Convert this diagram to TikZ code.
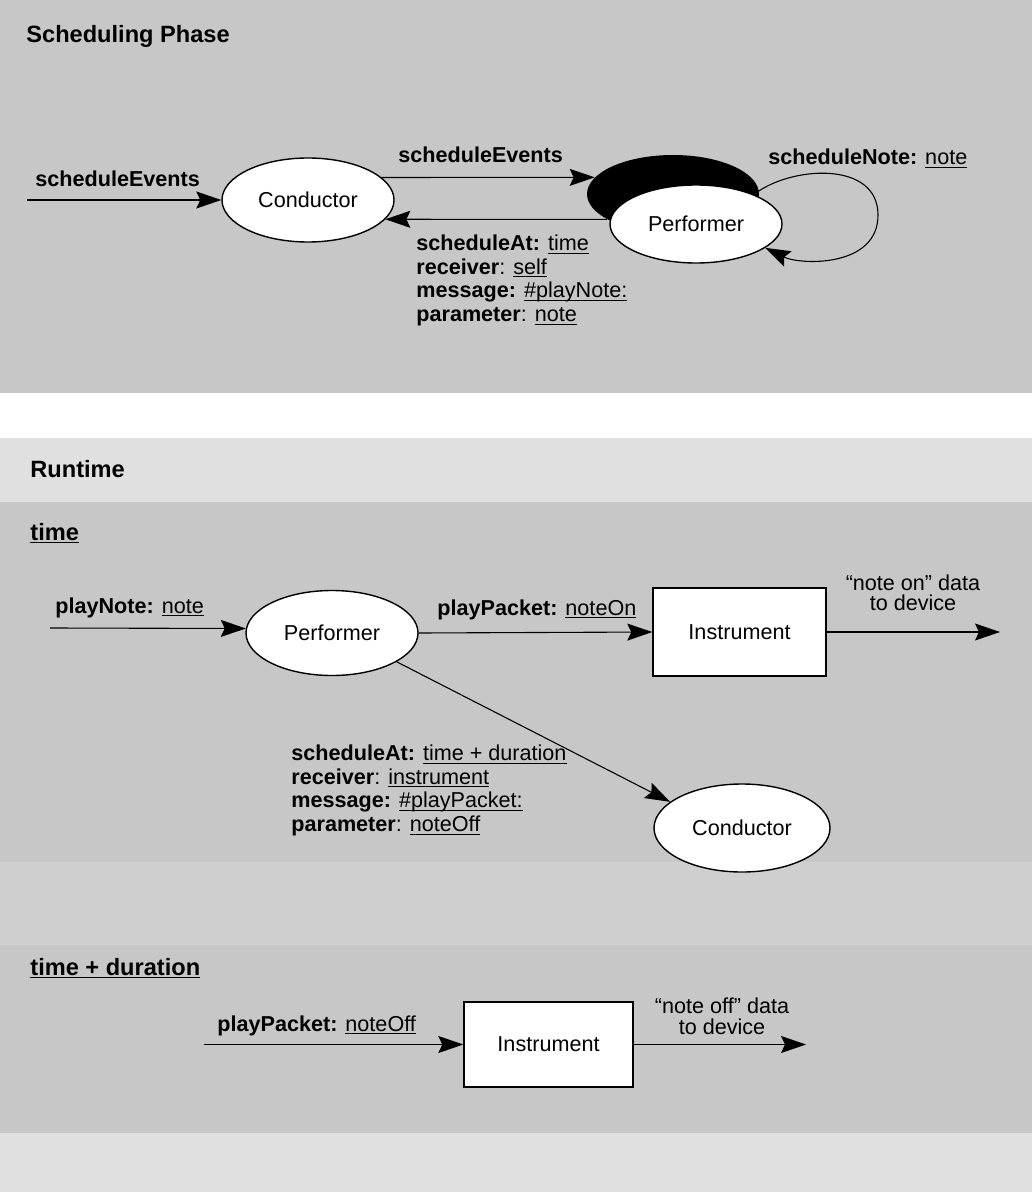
\documentclass[tikz,border=0pt]{standalone}
\usepackage{fontspec}
\setmainfont{Liberation Sans}
\usetikzlibrary{arrows.meta,shapes.geometric}
\newcommand\ulx[1]{\setbox0\hbox{#1}\rlap{\rule[-1.6pt]{\wd0}{0.55pt}}\box0}
\definecolor{bgc}{gray}{0.78}
\definecolor{bgm}{gray}{0.81}
\definecolor{bgl}{gray}{0.88}
\tikzset{
  every node/.style={font=\fontsize{10.8}{11.85}\selectfont, inner sep=0pt},
  obj/.style={ellipse, draw, line width=0.7pt, fill=white},
  box/.style={rectangle, draw, line width=0.7pt, fill=white},
  arr/.style={line width=0.55pt, -{Stealth[length=12.5pt,width=8.5pt,inset=2pt]}},
  lab/.style={anchor=base west},
  hdr/.style={anchor=base west, font=\fontsize{11.8}{13}\selectfont\bfseries},
}
\begin{document}
\begin{tikzpicture}[x=0.5pt,y=-0.5pt]
\useasboundingbox (0,0) rectangle (1032,1192);
% backgrounds
\fill[bgc] (0,0) rectangle (1032,393);
\fill[bgl] (0,438) rectangle (1032,502);
\fill[bgc] (0,502) rectangle (1032,862);
\fill[bgm] (0,862) rectangle (1032,945);
\fill[bgc] (0,945) rectangle (1032,1133);
\fill[bgl] (0,1133) rectangle (1032,1192);

% ---------- Scheduling Phase ----------
\node[hdr] (h1) at (26,43) {Scheduling Phase};
\node[obj, minimum width=86pt, minimum height=42pt] (cond1) at (308,200) {Conductor};
\node[ellipse, fill=black, minimum width=86pt, minimum height=39pt] (perfsh) at (673,194) {};
\node[obj, minimum width=86pt, minimum height=39pt] (perf1) at (696,224) {Performer};

\coordinate (in1) at (27,200);
\draw[arr] (in1) -- (cond1.west);
\node[lab] (l1) at (35,187) {\textbf{scheduleEvents}};

\draw[arr] (cond1.17) -- (perfsh.168);
\node[lab] (l2) at (398,163) {\textbf{scheduleEvents}};
\draw[arr] (perfsh.201) -- (cond1.-14);

\coordinate (loopR) at (878,215);
\draw[arr] (perf1.27) .. controls (790,166) and (878,160) .. (loopR)
  .. controls (878,268) and (800,265) .. (perf1.-19);
\node[lab] (l3) at (768,165) {\textbf{scheduleNote:} \ulx{note}};

\node[anchor=north west, align=left] (l4) at (416,234.5)
  {\textbf{scheduleAt:} \ulx{time}\\
   \textbf{receiver}: \ulx{self}\\
   \textbf{message:} \ulx{\#playNote:}\\
   \textbf{parameter}: \ulx{note}};

% ---------- Runtime ----------
\node[hdr] (h2) at (30,477) {Runtime};
\node[hdr] (h3) at (30,540) {\ulx{time}};

\node[obj, minimum width=86pt, minimum height=42.5pt] (perf2) at (332,633) {Performer};
\node[box, minimum width=86.5pt, minimum height=44pt] (inst1) at (739.5,632) {Instrument};
\node[obj, minimum width=88pt, minimum height=44pt] (cond2) at (742,828) {Conductor};

\coordinate (in2) at (50,628);
\draw[arr] (in2) -- (perf2.177);
\node[lab] (l5) at (55,613) {\textbf{playNote:} \ulx{note}};

\draw[arr] (perf2.east) -- (inst1.west);
\node[lab] (l6) at (437,615) {\textbf{playPacket:} \ulx{noteOn}};

\coordinate (out1) at (1000,632);
\draw[arr] (inst1.east) -- (out1);
\node[anchor=north, align=center, font=\fontsize{10.8}{10.2}\selectfont] (l7) at (913,574.5)
  {“note on” data\\to device};

\draw[arr] (perf2.-24) -- (cond2.160);
\node[anchor=north west, align=left] (l8) at (291,744.5)
  {\textbf{scheduleAt:} \ulx{time + duration}\\
   \textbf{receiver}: \ulx{instrument}\\
   \textbf{message:} \ulx{\#playPacket:}\\
   \textbf{parameter}: \ulx{noteOff}};

% ---------- time + duration ----------
\node[hdr] (h4) at (30,975) {\ulx{time + duration}};
\node[box, minimum width=84.5pt, minimum height=42.5pt] (inst2) at (548.5,1044.5) {Instrument};

\coordinate (in3) at (204,1044.5);
\draw[arr] (in3) -- (inst2.west);
\node[lab] (l9) at (217,1031) {\textbf{playPacket:} \ulx{noteOff}};

\coordinate (out3) at (806,1044.5);
\draw[arr] (inst2.east) -- (out3);
\node[anchor=north, align=center, font=\fontsize{10.8}{10.5}\selectfont] (l10) at (722,997.5)
  {“note off” data\\to device};
\end{tikzpicture}
\end{document}
